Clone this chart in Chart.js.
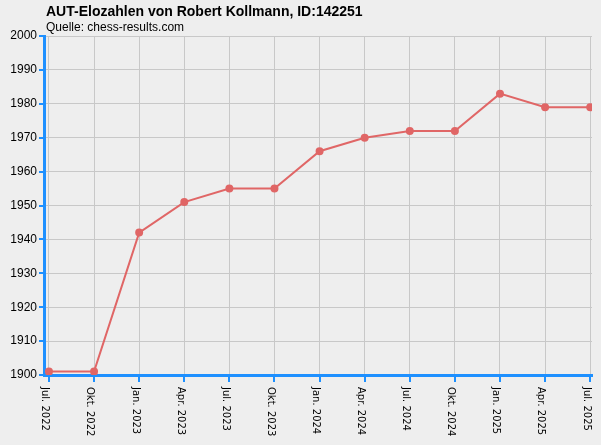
<!DOCTYPE html>
<html><head><meta charset="utf-8">
<script src="https://cdn.jsdelivr.net/npm/chart.js@4"></script>
<style>html,body{margin:0;padding:0;background:#eeeeee}#w{width:601px;height:445px}</style>
</head><body><div id="w"><canvas id="c"></canvas></div>
<script>
const categories = ["Jul. 2022","Okt. 2022","Jan. 2023","Apr. 2023","Jul. 2023","Okt. 2023","Jan. 2024","Apr. 2024","Jul. 2024","Okt. 2024","Jan. 2025","Apr. 2025","Jul. 2025"];
const elo = [1901,1901,1942,1951,1955,1955,1966,1970,1972,1972,1983,1979,1979];
const titleText = "AUT-Elozahlen von Robert Kollmann, ID:142251";
const subtitleText = "Quelle: chess-results.com";

const deco = {
  id:'deco',
  beforeDraw(ch){const c=ch.ctx;c.save();c.fillStyle='#eeeeee';c.fillRect(0,0,ch.width,ch.height);c.restore();},
  afterDraw(ch){
    const c=ch.ctx, x=ch.scales.x, y=ch.scales.y;
    c.save();
    c.fillStyle='#000';c.textBaseline='alphabetic';c.textAlign='left';
    c.font='bold 14px "Liberation Sans", Arial, sans-serif';
    c.fillText(titleText,46,16);
    c.font='12px "Liberation Sans", Arial, sans-serif';
    c.fillText(subtitleText,46,31);
    c.strokeStyle='#1e90ff';c.lineWidth=2;
    categories.forEach((l,i)=>{
      const px=Math.round(x.getPixelForValue(i));
      c.beginPath();c.moveTo(px,y.bottom);c.lineTo(px,y.bottom+7);c.stroke();
    });
    for(let v=1900;v<=2000;v+=10){
      const py=Math.round(y.getPixelForValue(v));
      c.beginPath();c.moveTo(x.left-5,py);c.lineTo(x.left,py);c.stroke();
    }
    c.font='10px "DejaVu Sans", sans-serif';
    categories.forEach((l,i)=>{
      const px=x.getPixelForValue(i);
      c.save();c.translate(px-4,y.bottom+12);c.rotate(Math.PI/2);
      c.textAlign='left';c.textBaseline='middle';c.fillText(l,0,0);c.restore();
    });
    c.restore();
  }
};

new Chart(document.getElementById('c'),{
  type:'line',
  data:{datasets:[{data:elo.map((v,i)=>({x:i,y:v})),borderColor:'#e06666',backgroundColor:'#e06666',borderWidth:2,pointRadius:3,pointBackgroundColor:'#e06666',tension:0}]},
  options:{
    responsive:true,maintainAspectRatio:false,animation:false,devicePixelRatio:1,
    layout:{padding:{top:36,right:9,bottom:0,left:0}},
    plugins:{legend:{display:false},tooltip:{enabled:false},title:{display:false}},
    scales:{
      x:{type:'linear',min:-0.11,max:12.04,
        afterBuildTicks(s){s.ticks=categories.map((_,i)=>({value:i}));},
        afterFit(s){s.height=70;},
        grid:{color:'#c8c8c8',drawTicks:false},
        border:{color:'#1e90ff',width:3},
        ticks:{display:false}},
      y:{min:1900,max:2000,afterFit(s){s.width=44;},
        grid:{color:'#c8c8c8',drawTicks:false},
        border:{color:'#1e90ff',width:3},
        ticks:{stepSize:10,color:'#000',font:{size:12,family:'"Liberation Sans", Arial, sans-serif'},padding:7,callback:v=>String(v)}}
    }
  },
  plugins:[deco]
});
</script></body></html>
